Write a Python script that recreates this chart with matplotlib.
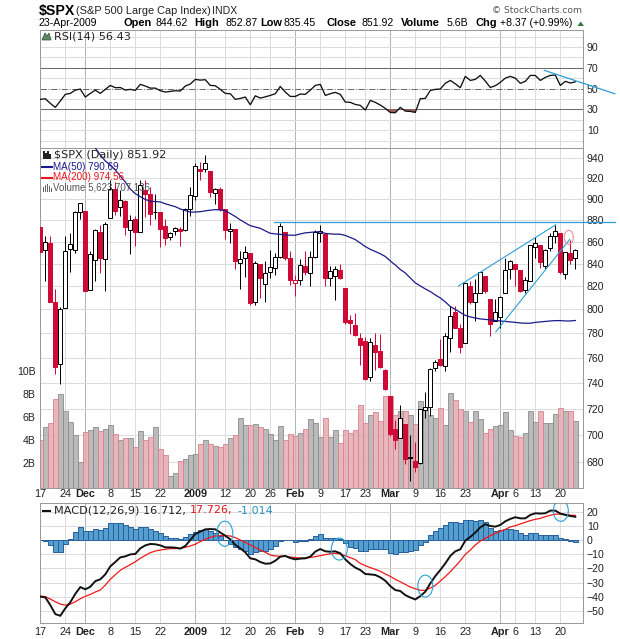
import numpy as np
import matplotlib
matplotlib.use("Agg")
import matplotlib.pyplot as plt
from matplotlib.lines import Line2D
from matplotlib.patches import Ellipse, Polygon, Rectangle

W, H = 620, 639
plt.rcParams['font.family'] = ['Liberation Sans', 'DejaVu Sans']

# Trading days from 17-Nov-2008, one slot per day
tickPos = [0, 5, 9, 14, 19, 24, 31, 37, 42, 46, 51, 56, 61, 65, 70, 75, 80, 85, 92, 95, 99, 104]
tickLabels = ['17', '24', 'Dec', '8', '15', '22', '2009', '12', '20', '26', 'Feb', '9', '17', '23',
              'Mar', '9', '16', '23', 'Apr', '6', '13', '20']
monthLabels = ['Dec', '2009', 'Feb', 'Mar', 'Apr']

opens = [873.2, 852, 859, 806, 755, 801, 853, 852, 887, 888.6, 817, 843, 869, 844, 882, 909, 892, 898,
         871, 881, 869, 908, 905, 887, 887, 874, 864, 869.5, 872, 870.6, 890.6, 903, 929, 929, 927, 905.7,
         909.9, 890, 869.5, 872, 841, 845, 849.6, 806.8, 839.7, 822, 832.8, 836, 845.7, 868.9, 845, 823,
         825.7, 837.8, 831.75, 846, 868.2, 866.9, 827.4, 829.3, 833.9, 818.6, 791, 787, 775.9, 773.25,
         744.7, 770.6, 765.8, 749.9, 729.6, 704.4, 698, 708.3, 684, 680.8, 679.3, 719, 720.9, 752, 758.8,
         753, 776, 797.9, 784.5, 772, 820.6, 806.8, 814, 828.7, 809, 790, 793.6, 814, 835, 839.75, 834,
         816.8, 825, 855.3, 856.9, 838, 854, 865, 868, 831, 850, 844.62]
highs = [880, 865, 865, 818, 802, 865, 868, 888, 896.3, 888.6, 851, 871.6, 875, 878, 918, 916, 908, 899,
         885, 884, 918, 918, 911, 905, 887, 881, 869, 873.7, 873, 891, 911, 934.7, 936, 943, 927, 910,
         911, 890, 877, 872, 851, 855.5, 849.6, 842, 840, 842, 852, 850, 876.7, 868.9, 851, 830,
         844, 851, 851, 871, 875, 868, 838, 838, 840, 818.6, 795, 797, 780, 777,
         776, 780.5, 779.6, 751, 729.6, 711, 722.5, 708.3, 699.7, 695, 719.6, 733, 752, 758, 775,
         780, 803, 803, 788, 823, 825, 826, 833, 828.7, 809, 809, 811.5, 845, 843, 840, 834,
         828, 857, 864, 857, 853, 868, 875, 868, 850.5, 861, 852.87]
lows = [849, 825, 806, 747, 739, 801, 833, 850, 881, 815.7, 817, 825, 832, 816, 882, 885, 884, 866,
        849, 856, 869, 883, 875, 881, 855, 857, 861, 866, 856, 870, 884, 899, 918, 926, 902, 895.5,
        888, 862, 859, 835, 818, 828, 804, 804, 810, 806, 827, 830, 845, 843, 821, 812,
        821, 830, 820, 845, 860, 820, 820, 808, 826, 788, 779, 778, 754, 742,
        741, 750, 752, 734, 699, 690, 698, 679, 666.8, 672.9, 679, 713, 714, 749, 753,
        749, 765, 784, 764, 772, 805, 790, 814, 814, 778, 790, 784, 814, 826, 820, 815,
        814, 825, 845, 836, 835, 851, 859, 831, 826, 840, 835.45]
closes = [850.75, 859.12, 806.58, 752.44, 800.03, 851.81, 857.39, 887.68, 896.24, 816.21, 848.81, 870.74,
          845.22, 876.07, 909.70, 888.67, 899.24, 873.59, 879.73, 868.57, 913.18, 904.42, 885.28, 887.88,
          871.63, 863.16, 868.15, 872.80, 869.42, 890.64, 903.25, 931.80, 927.45, 934.70, 906.65, 909.73,
          890.35, 870.26, 871.79, 842.62, 843.74, 850.12, 805.22, 840.24, 827.50, 831.95, 836.57, 845.71,
          874.09, 845.14, 825.88, 825.44, 838.51, 832.23, 845.85, 868.60, 869.89, 827.16, 833.74, 835.19,
          826.84, 789.17, 788.42, 778.94, 770.05, 743.33, 773.14, 764.90, 752.83, 735.09, 700.82, 696.33,
          712.87, 682.55, 683.38, 676.53, 719.60, 721.36, 750.74, 756.55, 753.89, 778.12, 794.35, 784.04,
          768.54, 822.92, 806.12, 813.88, 832.86, 815.94, 787.53, 797.87, 811.08, 834.38, 842.50, 835.48,
          815.55, 825.16, 856.56, 858.73, 841.50, 852.06, 865.30, 869.60, 832.39, 850.08, 843.55, 851.92]
prevClose = 873.29

# billions of shares
volume = [4.0, 5.1, 5.44, 7.6, 7.96, 6.5, 5.53, 4.43, 2.06, 4.66, 4.86, 5.1, 4.75, 5.0, 5.27, 4.57, 4.0, 4.14,
          4.14, 3.36, 4.83, 4.05, 4.3, 5.1, 3.27, 2.75, 0.93, 1.19, 2.15, 2.32, 2.67, 2.78, 3.62, 4.05, 3.7, 3.53,
          3.39, 3.62, 4.14, 4.4, 5.88, 5.27, 5.27, 5.36, 5.1, 5.0, 4.49, 3.97, 5.18, 4.05, 4.49, 4.32,
          4.58, 4.92, 5.79, 5.44, 4.23, 5.88, 4.23, 4.84, 3.71, 4.87, 4.58, 4.84, 7.0, 5.44,
          6.14, 6.4, 5.62, 7.78, 7.78, 6.2, 6.48, 6.48, 6.2, 5.36, 7.35, 6.74, 6.14, 5.88, 6.74,
          5.27, 8.04, 7.5, 6.66, 6.48, 5.53, 6.48, 5.79, 4.58, 5.0, 5.18, 5.27, 6.4, 4.84, 4.32, 4.23,
          4.58, 6.48, 5.53, 6.48, 5.44, 5.44, 6.3, 6.74, 6.48, 6.48, 5.62]

# off the top of the panel before slot 11
ma50 = [np.nan] * 11 + [950, 943, 937, 933, 928, 922.1, 916.2, 909.4, 905, 902, 899.4, 897.6, 897.4, 897, 895.3,
        893.8, 892.5, 890.3, 888.8, 887.4, 887.4, 887.8, 888.5, 889.2, 889.7, 889.4, 888.6, 886, 883.2, 880, 877.2,
        874.6, 873.4, 872.2, 869.8, 867.6, 867, 866.6, 866, 865.8, 865.8, 867, 868, 868.4, 868.9, 868.9, 867.5,
        867, 866.8, 866.7, 865.6, 863.7, 861.8, 858.6, 855.4, 852.9, 850.9, 848.9, 846.4, 842.4, 838.8, 834.8,
        831.7, 827.3, 823, 820.3, 817.7, 815.4, 812.5, 809.9, 806.5, 802.5, 800.1, 797.5, 795, 793.7, 792.8, 792,
        791.6, 791.2, 790.7, 790.3, 789.9, 789.5, 789.1, 788.6, 788.4, 788.4, 789.1, 789.5, 789.9, 790.3, 790.6,
        790.6, 790.3, 790.3, 790.69]

rsi = [39.6, 40.2, 35.7, 31.9, 38, 44.4, 45.3, 48.5, 49.5, 41.8, 45.3, 48.5, 45.3, 49.2, 53, 50.8, 51, 48.5,
       49.2, 48.2, 54, 52.4, 50.4, 50.4, 47.9, 46.6, 47.2, 47.9, 47.6, 52.4, 54.3, 58.8, 58.1, 58.5, 53, 52.7,
       49.2, 45.3, 45, 39.6, 40.5, 41.8, 34.4, 43, 40.8, 42, 43.4, 45, 52, 46.6, 42.4, 42.4, 44.7, 44.4,
       48.5, 53, 54, 43.4, 45, 46.3, 44.4, 37, 36.7, 34.7, 33.8, 29.3, 38.6, 36.7, 34.1, 30.9, 27, 26.7,
       31.9, 28.3, 28, 27, 40.2, 40.5, 48.2, 49.2, 49.5, 55, 57.8, 54.6, 50.8, 61.7, 57.8, 58.8, 62.6, 57.2,
       51, 52.7, 55.9, 60, 61.7, 60, 55, 56.9, 62.6, 62.6, 57.8, 60.7, 62.6, 63, 53, 56.9, 55.3, 56.43]

macd = [-40, -40.5, -46, -52.4, -53.6, -48.3, -44, -38, -33.2, -34.8, -33, -29, -27.7, -24.2, -18.5, -15.4, -12.1,
        -11.4, -10, -9.7, -5.7, -3.6, -2.6, -2.8, -3.6, -5, -5, -5.2, -5.9, -4, 0.2, 4.5, 6.2, 7.8, 8, 7.8, 5.5, 3.3,
        0.7, -3.3, -5.7, -8.5, -12.8, -13.5, -15.4, -16.6, -16.4, -14.5, -11.6, -11.1, -12.6, -13.5, -13, -12.8,
        -11.6, -8, -6.2, -7.8, -8.1, -7.8, -9.2, -13.5, -16.8, -19.4, -21.1, -23.9, -24.2, -24.6, -26.3, -28.7,
        -32.5, -35.3, -36, -38.9, -40.6, -42, -39.6, -36.5, -30.6, -25.4, -21.1, -16.4, -11.1, -7.8, -6.4, -0.2,
        2.4, 5.5, 9.2, 11.4, 10.2, 9.7, 10.9, 13.5, 15.2, 16.4, 15.6, 15.6, 18, 19.2, 19, 19.2, 21.1, 21.1, 19, 18,
        17.3, 16.712]
signal = [-39.6, -40, -41.7, -43.6, -45.3, -46, -45.3, -43.6, -41.5, -39.8, -38.4, -36.7, -35.3, -31.8, -27.7,
          -24.4, -21.3, -19.2, -17.3, -15.2, -12.8, -10.7, -8.8, -7.6, -6.9, -6.4, -5.9, -5.9, -5.7, -5, -4, -2.8,
          -0.9, 0.7, 2.1, 3.1, 3.3, 3.3, 3.1, 1.9, 0.2, -1.4, -3.3, -5.2, -6.9, -8.5, -10.4, -11.1, -11.4, -11.4,
          -11.8, -12.3, -12.6, -12.6, -12.1, -11.6, -10.9, -10.2, -9.5, -9.2, -9.7, -10.9, -12.3, -13.7, -16.4,
          -18, -19.4, -20.6, -22, -23.9, -25.6, -27.7, -29.4, -31.3, -33.2, -34.4, -35.5, -35.5, -33.9, -32,
          -28.9, -25.8, -22.3, -18.5, -14.5, -10, -6.9, -3.3, -0.5, 1.4, 3.3, 5, 6.4, 7.8, 9.5, 10.4, 11.6, 12.8,
          14, 14.9, 15.6, 16.8, 17.8, 18.5, 18.7, 18.5, 17.8, 17.726]
macdHist = [0, -0.3, -3.6, -8.5, -8.3, -2.8, 0.7, 5.9, 9.2, 6.4, 6.4, 7.8, 7.3, 8.5, 12.1, 12.1, 12.1, 10.7, 9.2,
            7.8, 9.2, 9.2, 7.8, 6.9, 5.5, 3.1, 1.4, 1.4, 0.7, 2.1, 4.3, 6.2, 7.3, 7.8, 6.6, 5.5, 3.1, 0.2, -2.8,
            -5, -6.4, -7.3, -9.5, -8.5, -7.3, -7.3, -6.2, -4, -0.2, 0, 0, -1.2, -0.5, -0.5, 0.7, 3.1, 4.3, 1.9,
            1.4, 1.4, 0.7, -2.1, -4.5, -5.4, -7.6, -7.6, -6.2, -5.9, -5.9, -6.4, -8.8, -9.5, -8.3, -8.5, -7.3,
            -6.9, -3.6, -0.9, 3.6, 6.4, 8.5, 10.9, 12.8, 13.3, 12.1, 14.5, 14.5, 14, 14.5, 12.8, 8.5, 6.9, 7.3,
            7.8, 8, 7.3, 5, 3.6, 5, 5, 4, 3.6, 3.6, 3.6, 1.4, 0.7, -0.5, -1.014]

priceTicks = list(range(680, 941, 20))
rsiLabels = [90, 70, 50, 30, 10]
volTicks = [2, 4, 6, 8, 10]
macdTicks = list(range(-50, 21, 10))

RED = '#cf0a36'
TREND = '#2a9fd6'
GRID = '#dcdcdc'
GRID_MONTH = '#b4b4b4'
X = np.arange(len(closes))
XLIM = (-0.06, 108.48)
PX = 0.72  # one pixel in points


def panel(top, bottom):
    return fig.add_axes([40 / W, 1 - bottom / H, (582.7 - 40) / W, (bottom - top) / H])


def ptext(x, y, s, **kw):
    kw.setdefault('va', 'center')
    kw.setdefault('fontsize', 7.6)
    return fig.text(x / W, 1 - y / H, s, **kw)


def pline(x0, x1, y, color, lw=1.5):
    fig.add_artist(Line2D([x0 / W, x1 / W], [1 - y / H, 1 - y / H], color=color, lw=lw))


def pbars(x, y, heights, color):
    for i, h in enumerate(heights):
        fig.add_artist(Rectangle(((x + 2 * i) / W, 1 - y / H), 1.5 / W, h / H, color=color, lw=0))


def style(ax):
    for s in ax.spines.values():
        s.set_color('#9a9a9a')
        s.set_linewidth(PX)
    ax.set_xlim(*XLIM)
    ax.set_xticks(tickPos)
    ax.yaxis.tick_right()
    ax.tick_params(length=0, labelsize=7.6, colors='#222222', pad=3)
    ax.set_axisbelow(True)
    for p, l in zip(tickPos, tickLabels):
        ax.axvline(p, color=(GRID_MONTH if l in monthLabels else GRID), lw=PX, zorder=0)


fig = plt.figure(figsize=(W / 100, H / 100), dpi=100, facecolor='white')

# RSI panel
axRsi = panel(30, 148)
style(axRsi)
axRsi.set_ylim(-7.2, 106.3)
axRsi.set_yticks(rsiLabels)
axRsi.set_xticklabels([])
for v in range(0, 101, 10):
    if v not in (30, 50, 70):
        axRsi.axhline(v, color=GRID, lw=PX, zorder=0)
axRsi.axhline(70, color='#6a6a6a', lw=PX, zorder=1)
axRsi.axhline(30, color='#6a6a6a', lw=PX, zorder=1)
axRsi.axhline(50, color='#6a6a6a', lw=PX, ls='-.', zorder=1)
axRsi.fill_between(X, rsi, 30, where=np.array(rsi) < 30, color='#a0605c', lw=0, interpolate=True, zorder=2)
axRsi.plot(X, rsi, color='#111111', lw=0.95, zorder=3)
axRsi.plot([100.8, 114.9], [67.5, 45], color=TREND, lw=0.9, clip_on=False, zorder=4)

# Volume panel sits underneath the price panel
axVol = panel(148, 488)
style(axVol)
axVol.set_ylim(-0.15, 29.3)
axVol.yaxis.tick_left()
axVol.set_yticks(volTicks)
axVol.set_yticklabels([str(v) + 'B' for v in volTicks])
axVol.tick_params(labelbottom=False)
for p in priceTicks:
    axVol.axhline((np.log(p / 661.6) / np.log(950 / 661.6)) * 29.45 - 0.15, color=GRID, lw=PX, zorder=0)
prev = [prevClose] + closes[:-1]
up = np.array(closes) >= np.array(prev)
axVol.bar(X[up], np.array(volume)[up] + 0.15, bottom=-0.15, width=1.0, color='#b0b0b0', edgecolor='#8c8c8c', lw=PX,
          alpha=0.85, zorder=2)
axVol.bar(X[~up], np.array(volume)[~up] + 0.15, bottom=-0.15, width=1.0, color='#e4aab2', edgecolor='#d8848f', lw=PX,
          alpha=0.85, zorder=2)

# Price panel
axPrice = panel(148, 488)
axPrice.patch.set_visible(False)
axPrice.set_yscale('log')
axPrice.set_xlim(*XLIM)
axPrice.set_ylim(661.6, 950)
axPrice.set_xticks([])
axPrice.yaxis.tick_right()
axPrice.set_yticks(priceTicks)
axPrice.set_yticklabels([str(p) for p in priceTicks])
axPrice.minorticks_off()
axPrice.tick_params(length=0, labelsize=7.6, colors='#222222', pad=3)
for s in axPrice.spines.values():
    s.set_color('#9a9a9a')
    s.set_linewidth(PX)

colors = [('k' if u else RED) for u in up]
axPrice.vlines(X, lows, highs, colors=colors, lw=PX, zorder=2)
for i in X:
    filled = closes[i] < opens[i]
    lo, hi = min(opens[i], closes[i]), max(opens[i], closes[i])
    axPrice.bar(i, hi - lo, bottom=lo, width=0.8, facecolor=(colors[i] if filled else 'white'),
                edgecolor=colors[i], lw=PX, zorder=3)
axPrice.plot(X, ma50, color='#1a1a8c', lw=0.9, zorder=4)

# trend lines and marks drawn by hand on the chart
axPrice.plot([46.7, 114.9], [877.8, 877.8], color=TREND, lw=0.9, clip_on=False, zorder=5)
axPrice.plot([83.6, 103.1], [820.2, 875.5], color=TREND, lw=0.8, zorder=5)
axPrice.plot([91.1, 105.9], [781.2, 862], color=TREND, lw=0.8, zorder=5)
axPrice.add_patch(Ellipse((105.7, 863.9), 1.8, 12.9, fill=False, edgecolor='#ee8f9c', lw=0.8, zorder=5))

# MACD panel
axMacd = panel(503, 622.7)
style(axMacd)
axMacd.set_ylim(-58.5, 26.5)
axMacd.set_yticks(macdTicks)
axMacd.set_xticklabels(tickLabels)
axMacd.tick_params(axis='x', labeltop=True, labelbottom=True, pad=3, labelsize=7.8)
for t in axMacd.get_xticklabels(which='major'):
    if t.get_text() in monthLabels:
        t.set_fontweight('bold')
for v in range(-50, 21, 10):
    axMacd.axhline(v, color=GRID, lw=PX, zorder=0)
axMacd.bar(X, macdHist, width=1.0, color='#549fcd', edgecolor='#2c619f', lw=PX, zorder=2)
axMacd.plot(X, signal, color='#f01818', lw=0.9, zorder=3)
axMacd.plot(X, macd, color='#111111', lw=1.4, zorder=4)
for cx, cy, w, h in [(36.9, 4.7, 3.2, 17.8), (59.8, -6.2, 3.2, 15.6), (77, -32.5, 3, 15.6), (104.1, 21, 3, 15)]:
    axMacd.add_patch(Ellipse((cx, cy), w, h, fill=False, edgecolor=TREND, lw=0.8, zorder=5))

# header
ptext(39, 10.5, '$SPX', fontsize=10.2, fontweight='bold')
ptext(76.5, 10.5, '(S&P 500 Large Cap Index)', fontsize=7.9, color='#222222')
ptext(212, 10.5, 'INDX', fontsize=7.6, color='#222222')
ptext(39, 23, '23-Apr-2009', fontsize=7.6)
ptext(123.5, 23, 'Open', fontsize=7.9, fontweight='bold')
ptext(156, 23, '844.62', fontsize=7.6)
ptext(194.5, 23, 'High', fontsize=7.9, fontweight='bold')
ptext(225, 23, '852.87', fontsize=7.6)
ptext(260.5, 23, 'Low', fontsize=7.9, fontweight='bold')
ptext(284, 23, '835.45', fontsize=7.6)
ptext(326.5, 23, 'Close', fontsize=7.9, fontweight='bold')
ptext(361, 23, '851.92', fontsize=7.6)
ptext(401, 23, 'Volume', fontsize=7.9, fontweight='bold')
ptext(447, 23, '5.6B', fontsize=7.6)
ptext(475, 23, 'Chg', fontsize=7.9, fontweight='bold')
ptext(500, 23, '+8.37 (+0.99%)', fontsize=7.6)
fig.add_artist(Polygon([[577.5 / W, 1 - 26 / H], [584 / W, 1 - 26 / H], [580.7 / W, 1 - 21.5 / H]], color='#2d7a3e',
                       lw=0))
ptext(492.5, 10.5, '\u00a9 StockCharts.com', fontsize=6.6, color='#555555', family=['DejaVu Sans'])

# panel legends
legendFont = ['DejaVu Sans']
fig.add_artist(Polygon([[42 / W, 1 - 40 / H], [45 / W, 1 - 33 / H], [47 / W, 1 - 36 / H], [49 / W, 1 - 33 / H],
                        [51 / W, 1 - 40 / H]], facecolor='#5f8a68', edgecolor='#2e4a34', lw=0.5))
ptext(54, 36.5, 'RSI(14) 56.43', family=legendFont, fontsize=8.1, color='#222222')
pbars(43, 159, [8, 6, 8, 5], '#222222')
ptext(54, 155.5, '$SPX (Daily) 851.92', family=legendFont, fontsize=8.1, color='#222222')
pline(42, 52, 166.5, '#1a1a8c')
ptext(53, 166.5, 'MA(50) 790.69', fontsize=7.1, color='#1a1a8c')
pline(42, 52, 177.5, '#e8141c')
ptext(53, 177.5, 'MA(200) 974.56', fontsize=7.1, color='#e8141c')
pbars(42.5, 192, [5, 7, 8, 6, 4], '#666666')
ptext(53, 188, 'Volume 5,623,707,136', fontsize=7.0, color='#555555')
pline(43, 50, 510.5, '#111111')
ptext(54, 510.5, 'MACD(12,26,9) 16.712,', family=legendFont, fontsize=8.1, color='#222222')
ptext(190, 510.5, '17.726,', family=legendFont, fontsize=8.0, color='#e8141c')
ptext(237.5, 510.5, '-1.014', family=legendFont, fontsize=8.0, color='#2a8fc0')

fig.savefig('out.png', dpi=100, facecolor='white')
